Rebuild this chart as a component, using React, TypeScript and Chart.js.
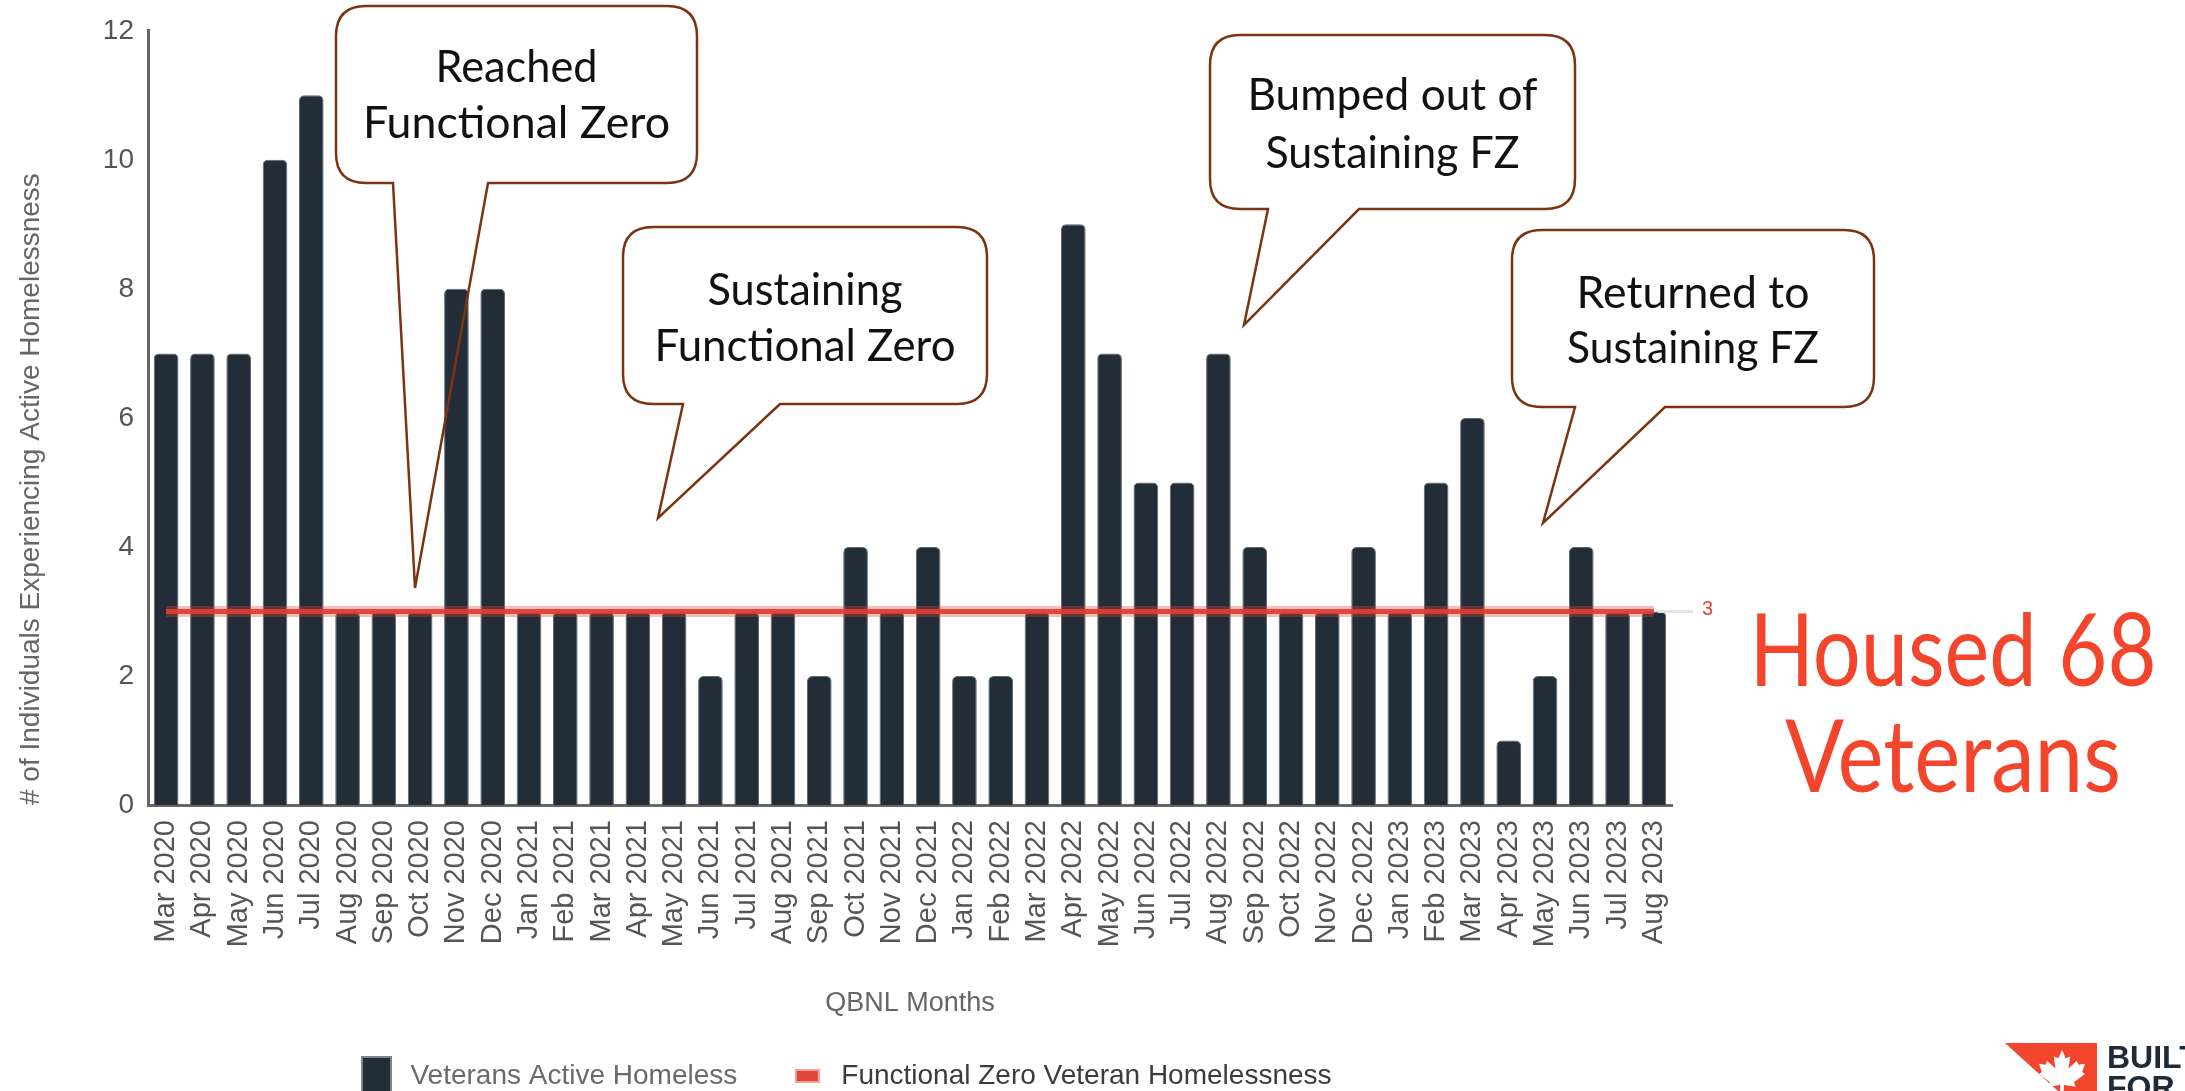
import React, { useEffect, useRef } from "react";
import { Chart, registerables } from "chart.js";

Chart.register(...registerables);

const months = [
  "Mar 2020", "Apr 2020", "May 2020", "Jun 2020", "Jul 2020", "Aug 2020", "Sep 2020", "Oct 2020", "Nov 2020", "Dec 2020",
  "Jan 2021", "Feb 2021", "Mar 2021", "Apr 2021", "May 2021", "Jun 2021", "Jul 2021", "Aug 2021", "Sep 2021", "Oct 2021", "Nov 2021", "Dec 2021",
  "Jan 2022", "Feb 2022", "Mar 2022", "Apr 2022", "May 2022", "Jun 2022", "Jul 2022", "Aug 2022", "Sep 2022", "Oct 2022", "Nov 2022", "Dec 2022",
  "Jan 2023", "Feb 2023", "Mar 2023", "Apr 2023", "May 2023", "Jun 2023", "Jul 2023", "Aug 2023",
];

const veteransActiveHomeless = [
  7, 7, 7, 10, 11, 3, 3, 3, 8, 8,
  3, 3, 3, 3, 3, 2, 3, 3, 2, 4, 3, 4,
  2, 2, 3, 9, 7, 5, 5, 7, 4, 3, 3, 4,
  3, 5, 6, 1, 2, 4, 3, 3,
];

const functionalZeroThreshold = [
  3, 3, 3, 3, 3, 3, 3, 3, 3, 3,
  3, 3, 3, 3, 3, 3, 3, 3, 3, 3, 3, 3,
  3, 3, 3, 3, 3, 3, 3, 3, 3, 3, 3, 3,
  3, 3, 3, 3, 3, 3, 3, 3,
];

const seriesNames = ["Veterans Active Homeless", "Functional Zero Veteran Homelessness"];
const xAxisTitle = "QBNL Months";
const yAxisTitle = "# of Individuals Experiencing Active Homelessness";
const yMin = 0;
const yMax = 12;
const yStep = 2;

const callouts = [
  { lines: ["Reached", "Functional Zero"], lens: [162, 307], box: [336, 6, 697, 183], tail: [393, 488, 415, 588], base: [82, 138] },
  { lines: ["Sustaining", "Functional Zero"], lens: [195, 301], box: [623, 227, 987, 404], tail: [683, 780, 658, 518], base: [305, 361] },
  { lines: ["Bumped out of", "Sustaining FZ"], lens: [290, 254], box: [1210, 35, 1575, 209], tail: [1268, 1359, 1244, 325], base: [110, 168] },
  { lines: ["Returned to", "Sustaining FZ"], lens: [233, 252], box: [1512, 230, 1874, 407], tail: [1575, 1665, 1543, 523], base: [308, 363] },
];

const FONT = "'Liberation Sans', Arial, Helvetica, sans-serif";
const BAR_COLOR = "#222d37";
const RED = "#e0453a";

function makeSwatch(w: number, h: number, fill: string, stroke: string) {
  const c = document.createElement("canvas");
  c.width = w;
  c.height = h;
  const g = c.getContext("2d")!;
  g.fillStyle = stroke;
  g.fillRect(0, 0, w, h);
  g.fillStyle = fill;
  g.fillRect(2, 2, w - 4, h - 4);
  return c;
}

const thresholdLabelPlugin = {
  id: "thresholdLabel",
  afterDatasetsDraw(chart: any) {
    const { ctx, chartArea, scales } = chart;
    const v = functionalZeroThreshold[functionalZeroThreshold.length - 1];
    const y = scales.y.getPixelForValue(v);
    const xEnd = scales.x.getPixelForValue(months.length - 1);
    ctx.save();
    ctx.strokeStyle = "#e4e4e4";
    ctx.lineWidth = 3;
    ctx.beginPath();
    ctx.moveTo(xEnd + 4, y);
    ctx.lineTo(chartArea.right + 21, y);
    ctx.stroke();
    ctx.fillStyle = RED;
    ctx.font = `20px ${FONT}`;
    ctx.textBaseline = "middle";
    ctx.textAlign = "left";
    ctx.fillText(String(v), chartArea.right + 30, y - 2);
    ctx.restore();
  },
};

function Callout({ c }: { c: typeof callouts[number] }) {
  const [x1, y1, x2, y2] = c.box;
  const [bl, br, tx, ty] = c.tail;
  const r = 30;
  const outline = [
    `M ${br} ${y2}`,
    `L ${x2 - r} ${y2}`,
    `Q ${x2} ${y2} ${x2} ${y2 - r}`,
    `L ${x2} ${y1 + r}`,
    `Q ${x2} ${y1} ${x2 - r} ${y1}`,
    `L ${x1 + r} ${y1}`,
    `Q ${x1} ${y1} ${x1} ${y1 + r}`,
    `L ${x1} ${y2 - r}`,
    `Q ${x1} ${y2} ${x1 + r} ${y2}`,
    `L ${bl} ${y2}`,
    `L ${tx} ${ty}`,
    `Z`,
  ].join(" ");
  const cx = (x1 + x2) / 2;
  return (
    <g>
      <rect x={x1} y={y1} width={x2 - x1} height={y2 - y1} rx={r} ry={r} fill="#ffffff" />
      <path d={outline} fill="none" stroke="#7a3510" strokeWidth={2.5} strokeLinejoin="miter" />
      {c.lines.map((t, i) => (
        <text
          key={i}
          x={cx}
          y={c.base[i]}
          textAnchor="middle"
          fontFamily="Lato, 'Open Sans', sans-serif"
          fontSize={44}
          fill="#111111"
          textLength={c.lens[i]}
          lengthAdjust="spacingAndGlyphs"
        >
          {t}
        </text>
      ))}
    </g>
  );
}

const leafPts = [
  [0, -0.5], [0.08, -0.32], [0.18, -0.36], [0.14, -0.1], [0.32, -0.26], [0.36, -0.18], [0.5, -0.2], [0.44, -0.02],
  [0.5, 0.02], [0.26, 0.2], [0.3, 0.3], [0.04, 0.26], [0.04, 0.5], [-0.04, 0.5], [-0.04, 0.26], [-0.3, 0.3],
  [-0.26, 0.2], [-0.5, 0.02], [-0.44, -0.02], [-0.5, -0.2], [-0.36, -0.18], [-0.32, -0.26], [-0.14, -0.1],
  [-0.18, -0.36], [-0.08, -0.32],
];

export default function App() {
  const ref = useRef<HTMLCanvasElement>(null);

  useEffect(() => {
    if (!ref.current) return;
    const darkSwatch = makeSwatch(31, 40, BAR_COLOR, "#7d848a");
    const redSwatch = makeSwatch(25, 14, RED, "#f0a39d");

    const chart = new Chart(ref.current, {
      type: "bar",
      data: {
        labels: months,
        datasets: [
          {
            type: "bar",
            label: seriesNames[0],
            data: veteransActiveHomeless,
            backgroundColor: BAR_COLOR,
            borderColor: "#5d666e",
            borderWidth: 1,
            borderRadius: { topLeft: 5, topRight: 5, bottomLeft: 0, bottomRight: 0 },
            borderSkipped: "bottom",
            barPercentage: 0.68,
            categoryPercentage: 1,
            order: 2,
          } as any,
          {
            type: "line",
            label: seriesNames[1] + " halo",
            data: functionalZeroThreshold,
            borderColor: "rgba(228,70,58,0.35)",
            borderWidth: 11,
            pointRadius: 0,
            fill: false,
            tension: 0,
            order: 1,
          } as any,
          {
            type: "line",
            label: seriesNames[1],
            data: functionalZeroThreshold,
            borderColor: "rgba(224,62,50,0.92)",
            borderWidth: 5,
            pointRadius: 0,
            fill: false,
            tension: 0,
            order: 0,
          } as any,
        ],
      },
      options: {
        responsive: false,
        maintainAspectRatio: false,
        devicePixelRatio: 1,
        animation: false,
        layout: { padding: { left: 16, right: 513, top: 30, bottom: 0 } },
        plugins: {
          tooltip: { enabled: false },
          legend: {
            position: "bottom",
            labels: {
              usePointStyle: true,
              pointStyleWidth: 40,
              padding: 50,
              font: { family: FONT, size: 28 },
              generateLabels: () => [
                {
                  text: seriesNames[0],
                  pointStyle: darkSwatch as any,
                  fillStyle: BAR_COLOR,
                  strokeStyle: "transparent",
                  lineWidth: 0,
                  hidden: false,
                  datasetIndex: 0,
                  fontColor: "#6a6a6a",
                } as any,
                {
                  text: seriesNames[1],
                  pointStyle: redSwatch as any,
                  fillStyle: RED,
                  strokeStyle: "transparent",
                  lineWidth: 0,
                  hidden: false,
                  datasetIndex: 2,
                  fontColor: "#3c3c3c",
                } as any,
              ],
            },
          },
        },
        scales: {
          x: {
            offset: true,
            grid: { display: false, drawTicks: false },
            border: { display: true, color: "#666666", width: 3 },
            ticks: {
              autoSkip: false,
              maxRotation: 90,
              minRotation: 90,
              padding: 15,
              color: "#555555",
              font: { family: FONT, size: 29 },
            },
            title: {
              display: true,
              text: xAxisTitle,
              color: "#666666",
              font: { family: FONT, size: 27, lineHeight: 1 },
              padding: { top: 0, bottom: -5 },
            },
            afterFit: (scale: any) => {
              scale.height = 207;
            },
          },
          y: {
            min: yMin,
            max: yMax,
            grid: { display: false, drawTicks: false },
            border: { display: true, color: "#666666", width: 3 },
            ticks: {
              stepSize: yStep,
              padding: 14,
              color: "#555555",
              font: { family: FONT, size: 28 },
            },
            title: {
              display: true,
              text: yAxisTitle,
              align: "start",
              color: "#666666",
              font: { family: FONT, size: 28, lineHeight: 1.2 },
              padding: { top: -2, bottom: 0 },
            },
            afterFit: (scale: any) => {
              scale.width = 132;
            },
          },
        },
      } as any,
      plugins: [thresholdLabelPlugin],
    });
    return () => chart.destroy();
  }, []);

  const leafScale = 46;
  const leafCx = 2062;
  const leafCy = 1073;
  const leafPath =
    leafPts.map((p, i) => `${i === 0 ? "M" : "L"} ${leafCx + p[0] * leafScale} ${leafCy + p[1] * leafScale}`).join(" ") + " Z";

  return (
    <div
      style={{
        position: "absolute",
        left: 0,
        top: 0,
        width: 2185,
        height: 1091,
        overflow: "hidden",
        background: "#ffffff",
      }}
    >
      <canvas
        ref={ref}
        width={2185}
        height={1100}
        style={{ position: "absolute", left: 0, top: 0, width: 2185, height: 1100 }}
      />
      <svg
        width={2185}
        height={1091}
        style={{ position: "absolute", left: 0, top: 0, pointerEvents: "none" }}
      >
        {callouts.map((c, i) => (
          <Callout key={i} c={c} />
        ))}
        <text
          x={1953}
          y={686}
          textAnchor="middle"
          fontFamily="Lato, 'Open Sans', sans-serif"
          fontSize={100}
          fill="#f2452c"
          textLength={407}
          lengthAdjust="spacingAndGlyphs"
        >
          Housed 68
        </text>
        <text
          x={1953}
          y={792}
          textAnchor="middle"
          fontFamily="Lato, 'Open Sans', sans-serif"
          fontSize={100}
          fill="#f2452c"
          textLength={336}
          lengthAdjust="spacingAndGlyphs"
        >
          Veterans
        </text>
        <polygon points="2005,1043 2097,1043 2097,1091 2058,1091" fill="#f2452c" />
        <path d={leafPath} fill="#ffffff" />
        <text x={2107} y={1068} fontFamily={FONT} fontWeight="bold" fontSize={32} fill="#1f2a36">
          BUILT
        </text>
        <text x={2107} y={1098} fontFamily={FONT} fontWeight="bold" fontSize={32} fill="#1f2a36">
          FOR
        </text>
      </svg>
    </div>
  );
}
